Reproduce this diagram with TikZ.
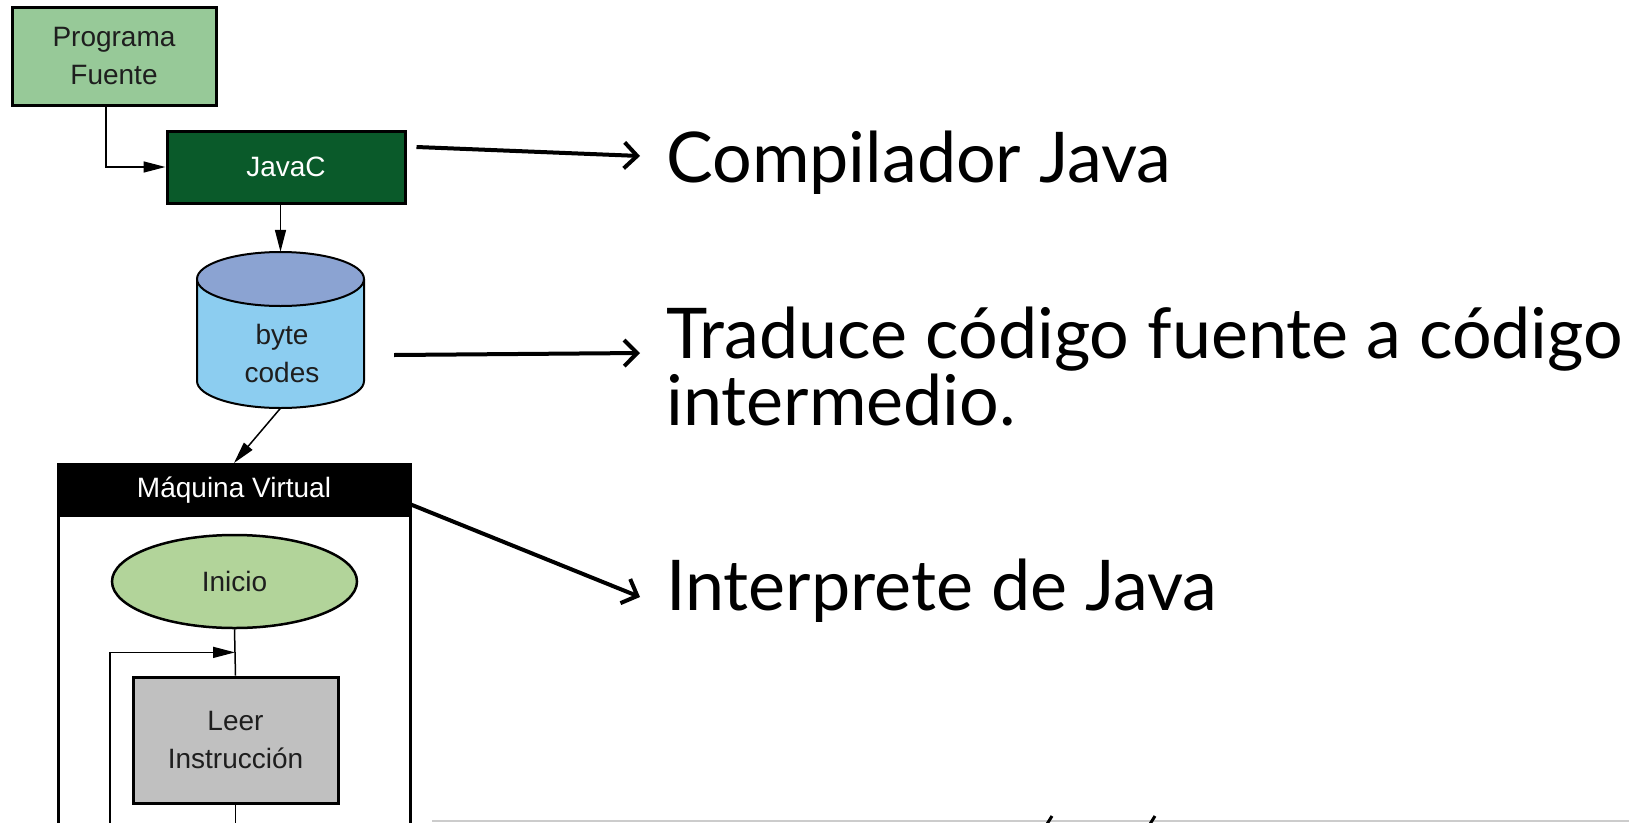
\documentclass[tikz,border=0pt]{standalone}
\usepackage{fontspec}
\setmainfont{Lato}
\newfontfamily\diag{Liberation Sans}
\usetikzlibrary{arrows.meta,shapes.geometric,calc}
\definecolor{pfgreen}{RGB}{151,201,152}
\definecolor{jcgreen}{RGB}{10,90,42}
\definecolor{cyltop}{RGB}{139,163,210}
\definecolor{cylbody}{RGB}{140,205,240}
\definecolor{inigreen}{RGB}{178,212,154}
\definecolor{leergray}{RGB}{192,192,192}
\definecolor{dtext}{RGB}{30,30,30}
\begin{document}
\begin{tikzpicture}[x=1pt,y=-1pt,
  dfont/.style={font=\diag\fontsize{28}{38}\selectfont},
  box/.style={draw=black, line width=3pt, inner sep=0pt, dfont, text=dtext, align=center},
  bigtext/.style={anchor=base west, inner sep=0pt, font=\fontsize{70}{76}\selectfont},
  bigarr/.style={line width=4pt, -{Straight Barb[length=13pt,width=26pt,line width=4pt]}},
  sarr/.style={line width=1.5pt, -{Triangle[length=22pt,width=11pt]}},
  sline/.style={line width=1.5pt}]
\useasboundingbox (0,0) rectangle (1629,822);
\clip (0,0) rectangle (1629,822);
\fill[white] (0,0) rectangle (1629,822);

% Programa Fuente
\node[box, fill=pfgreen, minimum width=204pt, minimum height=98pt] (pf) at (114,56) {Programa\\Fuente};
% JavaC
\node[box, fill=jcgreen, text=white!85, minimum width=238pt, minimum height=72pt] (jc) at (286,167) {JavaC};

% byte codes cylinder
\node[inner sep=0pt, minimum width=167pt, minimum height=156pt] (bc) at (280.5,330) {};
\fill[cylbody] (197,279) rectangle (364,381);
\fill[cylbody] (280.5,381) ellipse[x radius=83.5, y radius=27];
\draw[line width=2pt] (197,279) -- (197,381) arc[start angle=180, end angle=0, x radius=83.5, y radius=27] -- (364,279);
\filldraw[fill=cyltop, line width=2pt] (280.5,279) ellipse[x radius=83.5, y radius=27];
\node[dfont, text=dtext, align=center, inner sep=0pt] (bct) at (282,353) {byte\\codes};

% Maquina Virtual
\node[draw=black, line width=3pt, fill=white, minimum width=352pt, minimum height=437pt, anchor=north, inner sep=0pt] (mv) at (234,463) {};
\node[fill=black, minimum width=352pt, minimum height=54pt, anchor=north, inner sep=0pt, dfont, text=white!85] (mvh) at (234,463) {Máquina Virtual};
\node[ellipse, draw=black, line width=2.5pt, fill=inigreen, minimum width=245pt, minimum height=93pt, inner sep=0pt, dfont, text=dtext] (ini) at (234.5,581.5) {Inicio};
\node[box, fill=leergray, minimum width=205pt, minimum height=126pt] (leer) at (235.5,740) {Leer\\Instrucción};

% left connectors
\draw[sarr] ([xshift=-8pt]pf.south) |- (jc.west);
\draw[sarr] (jc.south -| bc.north) -- (bc.north);
\draw[sarr] (bc.south) -- (mv.north);
\draw[sline] (ini.south) -- (leer.north);
\coordinate (loopstart) at (110,840);
\coordinate (jn) at ($(ini.south)!0.5!(leer.north)$);
\draw[sarr] (loopstart) |- (jn);
\coordinate (leerout) at (237,840);
\draw[sline] (leer.south) -- (leer.south |- leerout);

% right texts
\node[bigtext] (t1) at (666,182) {Compilador Java};
\node[bigtext] (t2) at (666,358) {Traduce código fuente a código};
\node[bigtext] (t2b) at (666,425) {intermedio.};
\node[bigtext] (t3) at (666,610) {Interprete de Java};

% right arrows
\draw[bigarr] ([shift={(10,-20)}]jc.east) -- ([shift={(-26,-26)}]t1.base west);
\draw[bigarr] ([shift={(30,25)}]bc.east) -- ([shift={(-26,-5)}]t2.base west);
\draw[bigarr] ([shift={(-5,12)}]mvh.east) -- ([shift={(-26,-13)}]t3.base west);

% bottom partial line and accent marks
\coordinate (bl) at (432,821);
\coordinate (br) at (1629,821);
\draw[black!20, line width=1.5pt] (bl) -- (br);
\draw[line width=3pt] (1047,824) -- (1052,816);
\draw[line width=3pt] (1150,824) -- (1155,816);
\end{tikzpicture}
\end{document}
